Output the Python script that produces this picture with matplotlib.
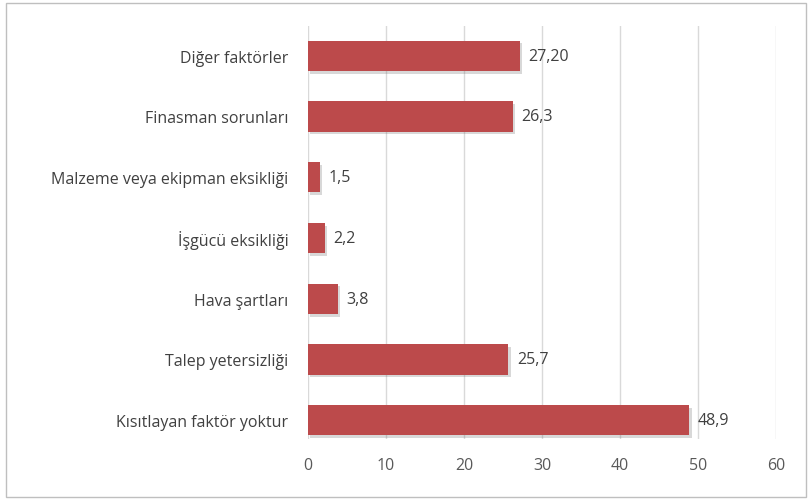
import matplotlib
matplotlib.use("Agg")
from matplotlib import pyplot as plt
from matplotlib.patches import Rectangle
import matplotlib.patheffects as pe

# data, bottom to top
categories = ["Kısıtlayan faktör yoktur", "Talep yetersizliği", "Hava şartları",
              "İşgücü eksikliği", "Malzeme veya ekipman eksikliği",
              "Finasman sorunları", "Diğer faktörler"]
values = [48.9, 25.7, 3.8, 2.2, 1.5, 26.3, 27.2]
value_labels = ["48,9", "25,7", "3,8", "2,2", "1,5", "26,3", "27,20"]
xticks = [0, 10, 20, 30, 40, 50, 60]

plt.rcParams['font.family'] = ['Open Sans', 'DejaVu Sans']

fig = plt.figure(figsize=(8.11, 5.02), dpi=100)
fig.patch.set_facecolor("white")
ax = fig.add_axes([308/811, 1 - 440/502, (776 - 308)/811, (440 - 27)/502])

y = list(range(len(categories)))
bars = ax.barh(y, values, height=0.5, color="#BC4A4B", zorder=3)
for b in bars:
    b.set_path_effects([pe.SimplePatchShadow(offset=(1.5, -2), shadow_rgbFace="#666666", alpha=0.25),
                        pe.Normal()])

for yi, v, lab in zip(y, values, value_labels):
    ax.text(v + 1.1, yi, lab, va="center", ha="left", fontsize=11.5, color="#404040")

ax.set_xlim(0, 60)
ax.set_ylim(-0.31, 6.49)
ax.set_xticks(xticks)
ax.set_xticklabels([str(t) for t in xticks], fontsize=11.5, color="#595959")
ax.set_yticks(y)
ax.set_yticklabels(categories, fontsize=11.5, color="#404040")
ax.tick_params(axis="both", length=0)
ax.tick_params(axis="x", pad=13)
ax.tick_params(axis="y", pad=14)
ax.grid(axis="x", color="#D9D9D9", linewidth=1, zorder=0)
for s in ax.spines.values():
    s.set_visible(False)

# outer chart frame
fig.patches.append(Rectangle((6/811, 4/502), 800/811, 494/502, transform=fig.transFigure,
                             fill=False, edgecolor="#BFBFBF", linewidth=1))

fig.savefig("out.png", dpi=100)
